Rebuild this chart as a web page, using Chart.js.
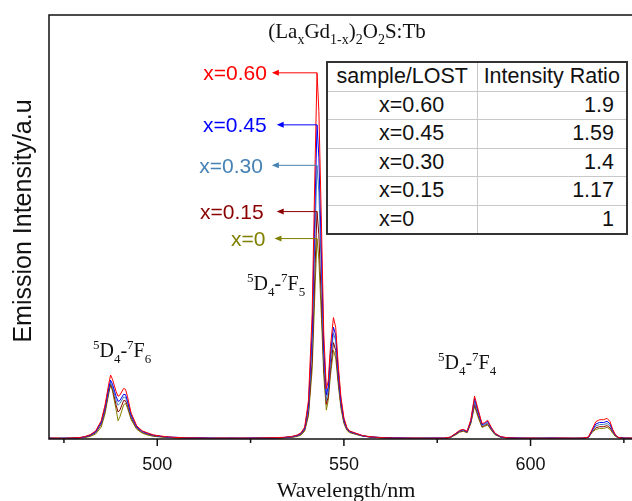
<!DOCTYPE html>
<html>
<head>
<meta charset="utf-8">
<title>(LaxGd1-x)2O2S:Tb emission</title>
<script src="https://cdn.jsdelivr.net/npm/chart.js@4.4.1/dist/chart.umd.min.js"></script>
<style>
  html, body { margin: 0; padding: 0; background: #fff; overflow: hidden; }
  #wrap { position: relative; width: 660px; height: 501px; }
  #ratioTable {
    position: absolute; left: 326px; top: 61px; width: 302px;
    border-collapse: collapse; border: 2px solid #333;
    font-family: "Liberation Sans", Arial, sans-serif; font-size: 21.5px; color: #111;
    background: #fff;
  }
  #ratioTable td { border: 1px solid #c8c8c8; padding: 0; height: 27.5px; line-height: 27px; width: 50%; }
  #ratioTable tr.head td { text-align: center; }
  #ratioTable td.sample { padding-left: 51px; text-align: left; }
  #ratioTable td.ratio { padding-right: 12px; text-align: right; }
</style>
</head>
<body>
<div id="wrap">
  <canvas id="spectrum" width="660" height="501"></canvas>
  <table id="ratioTable"></table>
</div>
<script>
// wavelength grid (nm), denser around the Tb3+ emission lines
const wavelength = [
  471, 473, 475, 477, 479,
  480.5, 482, 483.5, 485, 486, 487, 487.5, 488, 489, 489.5, 490, 491, 491.5, 492, 493, 494.5, 496, 497.5, 499,
  501, 503, 505, 508, 511, 514, 517, 520, 523, 526, 529, 532, 534, 536, 537.5, 538.5, 539.5, 540.5, 541.5,
  542.3, 542.8, 543.3, 544, 544.6, 545.3, 545.8, 546.4, 547.2, 547.8, 548.5, 549.2, 550, 550.8, 551.5, 552.5,
  553.5, 555, 557, 560,
  563, 566, 569, 572, 575, 577, 578.5, 580, 581, 582, 583, 584, 585, 586, 587, 587.7, 588.5, 589.5, 590.5,
  592, 594, 597,
  600, 603, 606, 609, 612, 614, 615.5, 616.5, 617.5, 618.5, 619.5, 620.5, 621.3, 622, 622.8, 623.6, 625,
  627, 629, 631
];

// emission intensity (a.u.) for each La content
const x060 = [
  .004, .005, .003, .005, .007,
  .012, .022, .042, .095, .175, .285, .332, .31, .245, .222, .228, .262, .258, .222, .135, .068, .042, .031, .021,
  .015, .011, .008, .006, .005, .004, .005, .004, .005, .004, .006, .007, .009, .013, .021, .032, .062, .2, .65,
  1.45, 1.9, 1.7, 1.1, .55, .26, .3, .48, .63, .58, .38, .22, .11, .06, .042, .035,
  .028, .018, .012, .007,
  .005, .004, .005, .004, .004, .005, .01, .03, .045, .05, .04, .1, .223, .15, .08, .085, .097, .06, .03,
  .012, .006, .004,
  .005, .004, .004, .005, .004, .005, .01, .05, .09, .1, .1, .107, .09, .05, .02, .008, .004,
  .005, .004, .004
];
const x045 = [
  .005, .003, .004, .004, .006,
  .011, .02, .038, .088, .165, .265, .305, .285, .22, .195, .2, .232, .23, .2, .125, .063, .04, .029, .02,
  .014, .01, .009, .005, .006, .005, .004, .005, .004, .005, .005, .006, .008, .012, .019, .029, .056, .175, .56,
  1.25, 1.63, 1.46, .95, .48, .23, .27, .44, .58, .54, .35, .2, .1, .056, .04, .033,
  .027, .017, .011, .008,
  .006, .005, .004, .004, .005, .004, .009, .028, .043, .048, .038, .095, .21, .14, .075, .08, .092, .057, .028,
  .011, .006, .005,
  .004, .004, .005, .004, .004, .004, .009, .045, .078, .086, .085, .092, .078, .045, .018, .008, .005,
  .004, .004, .005
];
const x030 = [
  .003, .004, .005, .003, .006,
  .01, .018, .035, .082, .155, .255, .292, .27, .2, .175, .185, .218, .215, .19, .118, .06, .037, .027, .018,
  .013, .009, .007, .006, .004, .005, .004, .003, .005, .004, .005, .006, .008, .011, .017, .027, .052, .155, .49,
  1.09, 1.42, 1.28, .83, .42, .2, .25, .4, .55, .51, .33, .19, .095, .053, .038, .032,
  .025, .016, .011, .006,
  .005, .004, .004, .005, .003, .004, .009, .027, .041, .046, .037, .09, .195, .13, .07, .075, .085, .053, .026,
  .01, .005, .004,
  .004, .005, .004, .003, .004, .004, .009, .042, .068, .075, .075, .08, .068, .041, .017, .007, .004,
  .004, .005, .004
];
const x015 = [
  .004, .003, .004, .005, .005,
  .009, .016, .032, .075, .145, .245, .285, .26, .175, .14, .15, .2, .198, .175, .11, .056, .034, .024, .016,
  .012, .009, .006, .005, .005, .003, .004, .004, .003, .005, .004, .005, .007, .01, .015, .024, .047, .135, .41,
  .91, 1.18, 1.06, .7, .37, .18, .22, .36, .5, .46, .3, .175, .088, .05, .036, .03,
  .024, .016, .01, .007,
  .004, .005, .003, .004, .004, .004, .008, .025, .038, .043, .035, .085, .182, .12, .065, .07, .079, .049, .024,
  .01, .005, .004,
  .003, .004, .004, .004, .003, .004, .008, .038, .058, .064, .064, .069, .058, .036, .015, .007, .004,
  .003, .004, .004
];
const x000 = [
  .003, .004, .003, .004, .005,
  .007, .013, .026, .062, .13, .235, .28, .25, .15, .095, .115, .178, .185, .162, .1, .05, .03, .02, .014,
  .01, .007, .006, .004, .004, .004, .003, .004, .003, .004, .004, .005, .006, .008, .013, .02, .041, .12, .36,
  .8, 1.04, .93, .62, .33, .15, .2, .33, .46, .42, .28, .16, .08, .045, .033, .028,
  .022, .015, .01, .006,
  .005, .003, .004, .003, .004, .003, .007, .022, .035, .04, .032, .08, .17, .11, .06, .065, .073, .045, .022,
  .009, .005, .003,
  .004, .003, .004, .003, .004, .003, .008, .035, .05, .055, .055, .06, .05, .03, .012, .006, .003,
  .004, .003, .004
];

const seriesNames = ['x=0.60', 'x=0.45', 'x=0.30', 'x=0.15', 'x=0'];
const seriesValues = [x060, x045, x030, x015, x000];
const seriesColors = ['#ff0000', '#0000ff', '#4682b4', '#8b0000', '#808000'];

// intensity ratio table
const tableSamples = ['x=0.60', 'x=0.45', 'x=0.30', 'x=0.15', 'x=0'];
const tableRatios = ['1.9', '1.59', '1.4', '1.17', '1'];

// x axis ticks: every 25 nm, labelled every 50 nm
const xTicks = [475, 500, 525, 550, 575, 600, 625];
const xTickLabels = [500, 550, 600];

// arrow tips (nm) and gap to the label text (px) for the peak labels
const arrowTipNm = [530.7, 532.0, 530.7, 532.0, 531.4];
const labelGap = [5, 10, 9, 13, 9];

const table = document.getElementById('ratioTable');
table.innerHTML = '<tr class="head"><td>sample/LOST</td><td>Intensity Ratio</td></tr>' +
  tableSamples.map((s, i) => '<tr><td class="sample">' + s + '</td><td class="ratio">' + tableRatios[i] + '</td></tr>').join('');

const SERIF = '"Liberation Serif", "Times New Roman", serif';
const SANS = '"Liberation Sans", Arial, sans-serif';

// draws text with sub/superscripts; parts: [text, 'n'|'sub'|'sup']
function drawRich(ctx, parts, x, y, size, align) {
  const small = Math.round(size * 0.65);
  const fontFor = k => (k === 'n' ? size : small) + 'px ' + SERIF;
  let total = 0;
  parts.forEach(p => { ctx.font = fontFor(p[1]); total += ctx.measureText(p[0]).width; });
  let cx = align === 'center' ? x - total / 2 : x;
  ctx.textAlign = 'left';
  ctx.textBaseline = 'alphabetic';
  parts.forEach(p => {
    ctx.font = fontFor(p[1]);
    const dy = p[1] === 'sub' ? size * 0.28 : p[1] === 'sup' ? -size * 0.42 : 0;
    ctx.fillText(p[0], cx, y + dy);
    cx += ctx.measureText(p[0]).width;
  });
}

function transition(j) {
  return [['5', 'sup'], ['D', 'n'], ['4', 'sub'], ['-', 'n'], ['7', 'sup'], ['F', 'n'], [String(j), 'sub']];
}

const decorations = {
  id: 'decorations',
  afterDatasetsDraw(chart) {
    const ctx = chart.ctx;
    const area = chart.chartArea;
    const xs = chart.scales.x, ys = chart.scales.y;
    ctx.save();

    // frame
    ctx.strokeStyle = '#111';
    ctx.lineWidth = 1.5;
    ctx.strokeRect(area.left, area.top, area.right - area.left, area.bottom - area.top);

    // outward tick marks
    xs.ticks.forEach(t => {
      const px = xs.getPixelForValue(t.value);
      const len = xTickLabels.includes(t.value) ? 7 : 4;
      ctx.beginPath();
      ctx.moveTo(px, area.bottom);
      ctx.lineTo(px, area.bottom + len);
      ctx.stroke();
    });

    ctx.fillStyle = '#111';
    // axis titles
    ctx.font = '22px ' + SERIF;
    ctx.textAlign = 'center';
    ctx.textBaseline = 'alphabetic';
    ctx.fillText('Wavelength/nm', 346, 497);
    ctx.save();
    ctx.translate(24, 221);
    ctx.rotate(-Math.PI / 2);
    ctx.font = '25px ' + SANS;
    ctx.textBaseline = 'middle';
    ctx.fillText('Emission Intensity/a.u', 0, 0);
    ctx.restore();

    // compound title
    drawRich(ctx, [['(La', 'n'], ['x', 'sub'], ['Gd', 'n'], ['1-x', 'sub'], [')', 'n'], ['2', 'sub'],
      ['O', 'n'], ['2', 'sub'], ['S:Tb', 'n']], 347, 38, 21, 'center');

    // transition labels
    drawRich(ctx, transition(6), 93, 357, 20, 'left');
    drawRich(ctx, transition(5), 247, 290, 20, 'left');
    drawRich(ctx, transition(4), 438, 369, 20, 'left');

    // arrows from each main peak to its label
    seriesValues.forEach((vals, i) => {
      let k = 0;
      vals.forEach((v, j) => { if (v > vals[k]) k = j; });
      const px = xs.getPixelForValue(wavelength[k]);
      const py = ys.getPixelForValue(vals[k]);
      const tip = xs.getPixelForValue(arrowTipNm[i]);
      ctx.strokeStyle = seriesColors[i];
      ctx.fillStyle = seriesColors[i];
      ctx.lineWidth = 1;
      ctx.beginPath();
      ctx.moveTo(px, py);
      ctx.lineTo(tip + 6, py);
      ctx.stroke();
      ctx.beginPath();
      ctx.moveTo(tip, py);
      ctx.lineTo(tip + 7, py - 3);
      ctx.lineTo(tip + 7, py + 3);
      ctx.closePath();
      ctx.fill();
      ctx.font = '21px ' + SANS;
      ctx.textAlign = 'right';
      ctx.textBaseline = 'middle';
      ctx.fillText(seriesNames[i], tip - labelGap[i], py + 1.5);
    });
    ctx.restore();
  }
};

new Chart(document.getElementById('spectrum').getContext('2d'), {
  type: 'line',
  data: {
    datasets: seriesValues.map((vals, i) => ({
      label: seriesNames[i],
      data: wavelength.map((w, j) => ({ x: w, y: vals[j] })),
      borderColor: seriesColors[i],
      borderWidth: 1,
      pointRadius: 0,
      tension: 0,
      fill: false
    }))
  },
  options: {
    responsive: false,
    animation: false,
    layout: { padding: { top: 15, right: 10, left: 0, bottom: 0 } },
    plugins: { legend: { display: false }, tooltip: { enabled: false } },
    scales: {
      x: {
        type: 'linear',
        min: 471,
        max: 632,
        grid: { display: false, drawTicks: false },
        border: { display: false },
        afterBuildTicks: s => { s.ticks = xTicks.map(v => ({ value: v })); },
        afterFit: s => { s.height = 62; },
        ticks: {
          autoSkip: false,
          maxRotation: 0,
          padding: 15,
          color: '#111',
          font: { family: SANS, size: 18 },
          callback: v => (xTickLabels.includes(v) ? String(v) : '')
        }
      },
      y: {
        min: 0,
        max: 2.2,
        grid: { display: false, drawTicks: false },
        border: { display: false },
        ticks: { display: false },
        afterFit: s => { s.width = 49; }
      }
    }
  },
  plugins: [decorations]
});
</script>
</body>
</html>
